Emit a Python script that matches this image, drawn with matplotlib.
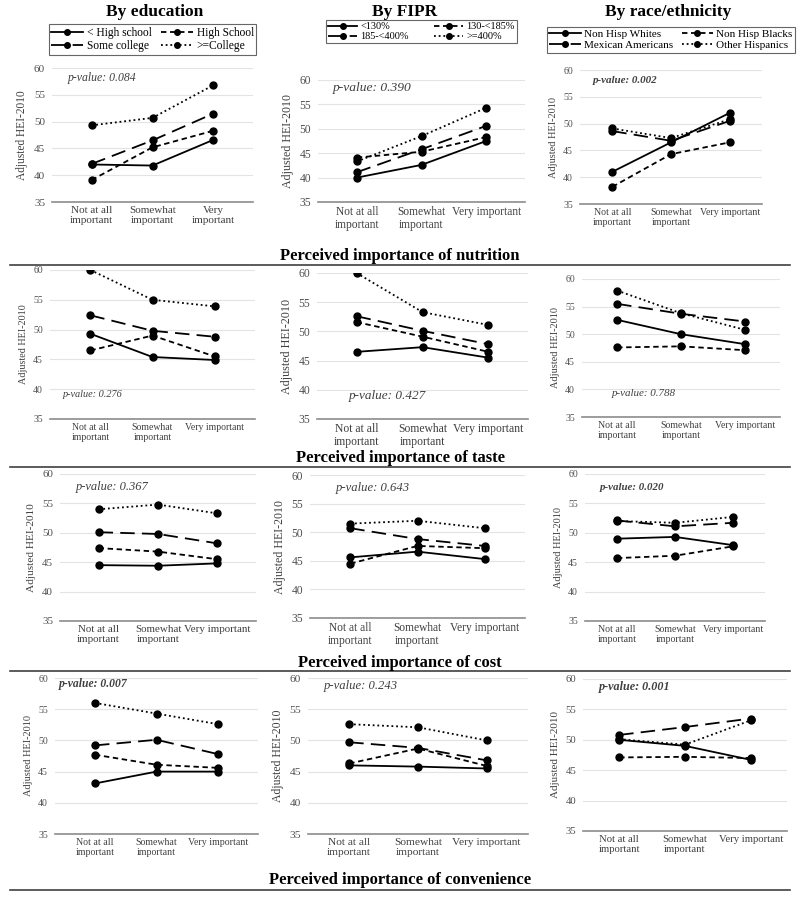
import matplotlib
matplotlib.use("Agg")
import matplotlib.pyplot as plt
from matplotlib.lines import Line2D

plt.rcParams['font.family'] = ['Liberation Serif', 'DejaVu Serif']

categories = ["Not at all\nimportant", "Somewhat\nimportant", "Very important"]
categories_wrapped = ["Not at all\nimportant", "Somewhat\nimportant", "Very\nimportant"]

edu_labels = ["< High school", "High School", "Some college", ">=College"]
fipr_labels = ["<130%", "130-<185%", "185-<400%", ">=400%"]
race_labels = ["Non Hisp Whites", "Non Hisp Blacks", "Mexican Americans", "Other Hispanics"]

col_titles = ["By education", "By FIPR", "By race/ethnicity"]
row_titles = ["Perceived importance of nutrition", "Perceived importance of taste",
              "Perceived importance of cost", "Perceived importance of convenience"]

# series order in each panel: solid, short dash, long dash, dotted
nutrition_edu = [[42.0, 41.8, 46.6], [39.1, 45.2, 48.3], [42.1, 46.5, 51.5], [49.3, 50.7, 56.8]]
nutrition_fipr = [[40.0, 42.6, 47.5], [44.1, 45.3, 48.3], [41.1, 45.8, 50.6], [43.3, 48.5, 54.3]]
nutrition_race = [[41.0, 46.5, 52.0], [38.2, 44.3, 46.5], [48.6, 46.8, 50.5], [49.1, 47.3, 50.8]]

taste_edu = [[49.3, 45.4, 44.9], [46.5, 49.0, 45.5], [52.4, 49.8, 48.8], [60.0, 55.0, 53.9]]
taste_fipr = [[46.5, 47.3, 45.5], [51.6, 49.1, 46.5], [52.6, 50.1, 47.8], [60.0, 53.3, 51.1]]
taste_race = [[52.6, 50.0, 48.2], [47.6, 47.8, 47.1], [55.5, 53.7, 52.3], [57.9, 53.8, 50.8]]

cost_edu = [[44.5, 44.4, 44.8], [47.4, 46.8, 45.5], [50.1, 49.8, 48.2], [54.0, 54.8, 53.3]]
cost_fipr = [[45.6, 46.6, 45.3], [44.5, 47.6, 47.2], [50.7, 48.8, 47.6], [51.5, 52.0, 50.7]]
cost_race = [[49.0, 49.3, 47.9], [45.7, 46.1, 47.7], [52.1, 51.1, 51.7], [52.0, 51.7, 52.7]]

conv_edu = [[43.1, 45.0, 45.0], [47.7, 46.1, 45.6], [49.2, 50.1, 47.8], [56.0, 54.3, 52.6]]
conv_fipr = [[46.0, 45.8, 45.5], [46.3, 48.7, 45.9], [49.7, 48.8, 46.8], [52.6, 52.1, 50.0]]
conv_race = [[50.0, 49.0, 46.7], [47.1, 47.2, 47.0], [50.8, 52.1, 53.5], [50.1, 49.2, 53.2]]

p_values = [["0.084", "0.390", "0.002"],
            ["0.276", "0.427", "0.788"],
            ["0.367", "0.643", "0.020"],
            ["0.007", "0.243", "0.001"]]
p_bold = [[False, False, True],
          [False, False, False],
          [False, False, True],
          [True, False, True]]

panels = [[nutrition_edu, nutrition_fipr, nutrition_race],
          [taste_edu, taste_fipr, taste_race],
          [cost_edu, cost_fipr, cost_race],
          [conv_edu, conv_fipr, conv_race]]

styles = ['-', (0, (3, 2)), (0, (8, 4)), (0, (1, 1.6))]

W, H = 800, 900
# pixel boxes (left, right, top, bottom) of each axes
boxes = [[(52, 253, 68, 202), (318, 525, 80, 202), (580, 762, 70, 204)],
         [(50, 255, 270, 419), (317, 528, 273, 419), (582, 780, 279, 417)],
         [(60, 256, 474, 621), (310, 525, 475, 618), (585, 765, 474, 621)],
         [(55, 258, 678, 834), (308, 528, 678, 834), (583, 787, 679, 831)]]
# p-value text positions in axes fraction
p_pos = [[(0.08, 0.90), (0.07, 0.91), (0.07, 0.90)],
         [(0.06, 0.15), (0.15, 0.14), (0.15, 0.15)],
         [(0.08, 0.89), (0.12, 0.89), (0.08, 0.89)],
         [(0.02, 0.94), (0.07, 0.93), (0.08, 0.93)]]
p_fs = [[8.5, 9.7, 7.9], [7.4, 9.5, 7.9], [9.0, 9.1, 7.8], [8.4, 9.1, 8.7]]
tick_fs = [[8.0, 8.3, 7.1], [7.0, 8.4, 7.1], [7.9, 8.3, 7.1], [7.1, 8.2, 7.7]]
leg_y = [1.10, 1.30, 1.13]
leg_fs = [8.3, 7.4, 8.0]
xlims = [(-0.65, 2.65), (-0.6, 2.6), (-0.55, 2.55)]

fig = plt.figure(figsize=(8, 9), dpi=100)

for r in range(4):
    for c in range(3):
        l, rr, t, b = boxes[r][c]
        ax = fig.add_axes([l / W, 1 - b / H, (rr - l) / W, (b - t) / H])
        data = panels[r][c]
        for i in range(4):
            ax.plot(range(3), data[i], color='black', linestyle=styles[i],
                    linewidth=1.3, marker='o', markersize=5)
        fs = tick_fs[r][c]
        ax.set_ylim(35, 60)
        ax.set_xlim(*xlims[c])
        ax.set_yticks([35, 40, 45, 50, 55, 60])
        ax.set_xticks(range(3))
        ax.set_xticklabels(categories_wrapped if (r == 0 and c == 0) else categories,
                           linespacing=1.1)
        ax.tick_params(axis='y', length=0, labelsize=fs, labelcolor='#505050', pad=5)
        ax.tick_params(axis='x', length=0, labelsize=fs, labelcolor='#404040', pad=3)
        ax.yaxis.grid(True, color='#e3e3e3', linewidth=0.8)
        ax.set_axisbelow(True)
        for s in ['top', 'right', 'left']:
            ax.spines[s].set_visible(False)
        ax.spines['bottom'].set_color('#8c8c8c')
        ax.spines['bottom'].set_linewidth(1.2)
        ax.set_ylabel("Adjusted HEI-2010", fontsize=fs + 0.3, color='#404040', labelpad=4)
        px, py = p_pos[r][c]
        ax.text(px, py, "p-value: " + p_values[r][c], transform=ax.transAxes,
                fontsize=p_fs[r][c], style='italic', color='#404040',
                fontweight='bold' if p_bold[r][c] else 'normal')
        if r == 0:
            labels = [edu_labels, fipr_labels, race_labels][c]
            handles = [Line2D([], [], color='black', linestyle=styles[i], linewidth=1.3,
                              marker='o', markersize=4) for i in range(4)]
            order = [0, 2, 1, 3]
            leg = ax.legend([handles[i] for i in order], [labels[i] for i in order],
                            ncol=2, loc='lower center', bbox_to_anchor=(0.5, leg_y[c]),
                            fontsize=leg_fs[c], frameon=True, fancybox=False, edgecolor='#404040',
                            handlelength=2.8, columnspacing=0.8 if c != 1 else 2.5,
                            handletextpad=0.3, labelspacing=0.1 if c == 1 else 0.15,
                            borderpad=0.2, borderaxespad=0)
            leg.get_frame().set_linewidth(0.8)

col_x = [155, 405, 668]
for c in range(3):
    fig.text(col_x[c] / W, 1 - 12 / H, col_titles[c], ha='center', va='center',
             fontsize=12.5, fontweight='bold')

title_y = [256, 458, 663, 880]
line_y = [265, 467, 671, 890]
for r in range(4):
    fig.text(400 / W, 1 - title_y[r] / H, row_titles[r], ha='center', va='center',
             fontsize=12, fontweight='bold')
    fig.add_artist(Line2D([10 / W, 790 / W], [1 - line_y[r] / H] * 2,
                          color='#404040', linewidth=1.2))

fig.savefig("out.png", dpi=100)
